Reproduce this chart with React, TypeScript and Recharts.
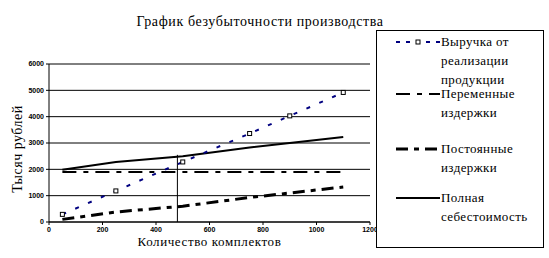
import React from 'react'
import { LineChart, Line, XAxis, YAxis, CartesianGrid, ReferenceLine, Label } from 'recharts'

// объём выпуска, комплектов
const quantities = [50, 250, 500, 750, 900, 1100]
// тыс. руб.
const revenue = [290, 1180, 2280, 3360, 4030, 4920]
const flatCosts = [1900, 1900, 1900, 1900, 1900, 1900]
const risingCosts = [100, 380, 600, 930, 1100, 1330]
const totalCost = [1980, 2280, 2500, 2830, 3000, 3230]

const xTicks = [0, 200, 400, 600, 800, 1000, 1200]
const yTicks = [0, 1000, 2000, 3000, 4000, 5000, 6000]
const breakEvenQty = 480
const breakEvenTop = 2550

const data = quantities.map((q, i) => ({
  q,
  revenue: revenue[i],
  flat: flatCosts[i],
  rising: risingCosts[i],
  total: totalCost[i],
}))

const serif = '"Liberation Serif", "Times New Roman", serif'
const tickFont = { fill: '#000', fontSize: 7, fontWeight: 700, fontFamily: '"Liberation Sans", Arial, sans-serif' }

const legendItems = [
  { label: ['Выручка от', 'реализации', 'продукции'], stroke: '#000080', dash: '4 6', width: 2, marker: true, top: 2 },
  { label: ['Переменные', 'издержки'], stroke: '#000', dash: '14 7 5 7', width: 2, top: 54 },
  { label: ['Постоянные', 'издержки'], stroke: '#000', dash: '12 6 5 6', width: 3, top: 109 },
  { label: ['Полная', 'себестоимость'], stroke: '#000', dash: undefined, width: 2, top: 158 },
]

function LegendBox() {
  return (
    <div style={{ position: 'absolute', left: 376, top: 30, width: 166, height: 216, border: '1px solid #000', background: '#fff', fontFamily: serif, fontSize: 13, letterSpacing: 0.4, color: '#000' }}>
      {legendItems.map((it) => (
        <div key={it.label[0]} style={{ position: 'absolute', left: 0, top: it.top, width: 166 }}>
          <svg width={46} height={18} style={{ position: 'absolute', left: 18, top: 0 }}>
            <line x1={1} y1={9} x2={45} y2={9} stroke={it.stroke} strokeWidth={it.width} strokeDasharray={it.dash} />
            {it.marker && <rect x={21} y={7} width={4} height={4} fill="#fff" stroke="#000" strokeWidth={1} />}
          </svg>
          {it.label.map((l) => (
            <div key={l} style={{ marginLeft: 64, height: 19, lineHeight: '18px', whiteSpace: 'nowrap' }}>{l}</div>
          ))}
        </div>
      ))}
    </div>
  )
}

const squareDot = (p: any) => (
  <rect key={`d${p.index}`} x={p.cx - 2} y={p.cy - 2} width={4} height={4} fill="#fff" stroke="#000" strokeWidth={1} />
)

export default function App() {
  return (
    <div style={{ position: 'absolute', left: 0, top: 0, width: 549, height: 258, background: '#fff' }}>
      <LineChart width={549} height={258} data={data} margin={{ top: 64, right: 179, bottom: 0, left: 0 }}>
        <CartesianGrid horizontal vertical={false} stroke="#000" strokeWidth={1} />
        <XAxis
          dataKey="q"
          type="number"
          domain={[0, 1200]}
          ticks={xTicks}
          height={36}
          tick={tickFont}
          tickSize={3}
          axisLine={{ stroke: '#000' }}
          tickLine={{ stroke: '#000' }}
        >
          <Label value="Количество комплектов" position="insideBottom" offset={12} style={{ fontFamily: serif, fontSize: 13, letterSpacing: 0.6, fill: '#000' }} />
        </XAxis>
        <YAxis
          type="number"
          domain={[0, 6000]}
          ticks={yTicks}
          width={49}
          tick={tickFont}
          tickSize={3}
          axisLine={{ stroke: '#000' }}
          tickLine={{ stroke: '#000' }}
        >
          <Label
            content={({ viewBox }: any) => (
              <text
                x={viewBox.x + 22}
                y={viewBox.y + viewBox.height / 2 + 6}
                transform={`rotate(-90 ${viewBox.x + 22} ${viewBox.y + viewBox.height / 2 + 6})`}
                textAnchor="middle"
                style={{ fontFamily: serif, fontSize: 14, letterSpacing: 0.5, fill: '#000' }}
              >
                Тысяч рублей
              </text>
            )}
          />
        </YAxis>
        <ReferenceLine segment={[{ x: breakEvenQty, y: 0 }, { x: breakEvenQty, y: breakEvenTop }]} stroke="#000" strokeWidth={1} />
        <Line dataKey="flat" name="Переменные издержки" stroke="#000" strokeWidth={2} strokeDasharray="14 7 5 7" dot={false} isAnimationActive={false} />
        <Line dataKey="rising" name="Постоянные издержки" stroke="#000" strokeWidth={3} strokeDasharray="12 6 5 6" dot={false} isAnimationActive={false} />
        <Line dataKey="total" name="Полная себестоимость" stroke="#000" strokeWidth={2} dot={false} isAnimationActive={false} />
        <Line dataKey="revenue" name="Выручка от реализации продукции" stroke="#000080" strokeWidth={2} strokeDasharray="4 10" dot={squareDot} isAnimationActive={false} />
      </LineChart>
      <div style={{ position: 'absolute', left: 0, top: 14, width: 520, textAlign: 'center', fontFamily: serif, fontSize: 14, letterSpacing: 0.6, pointerEvents: 'none' }}>
        График безубыточности производства
      </div>
      <LegendBox />
    </div>
  )
}
